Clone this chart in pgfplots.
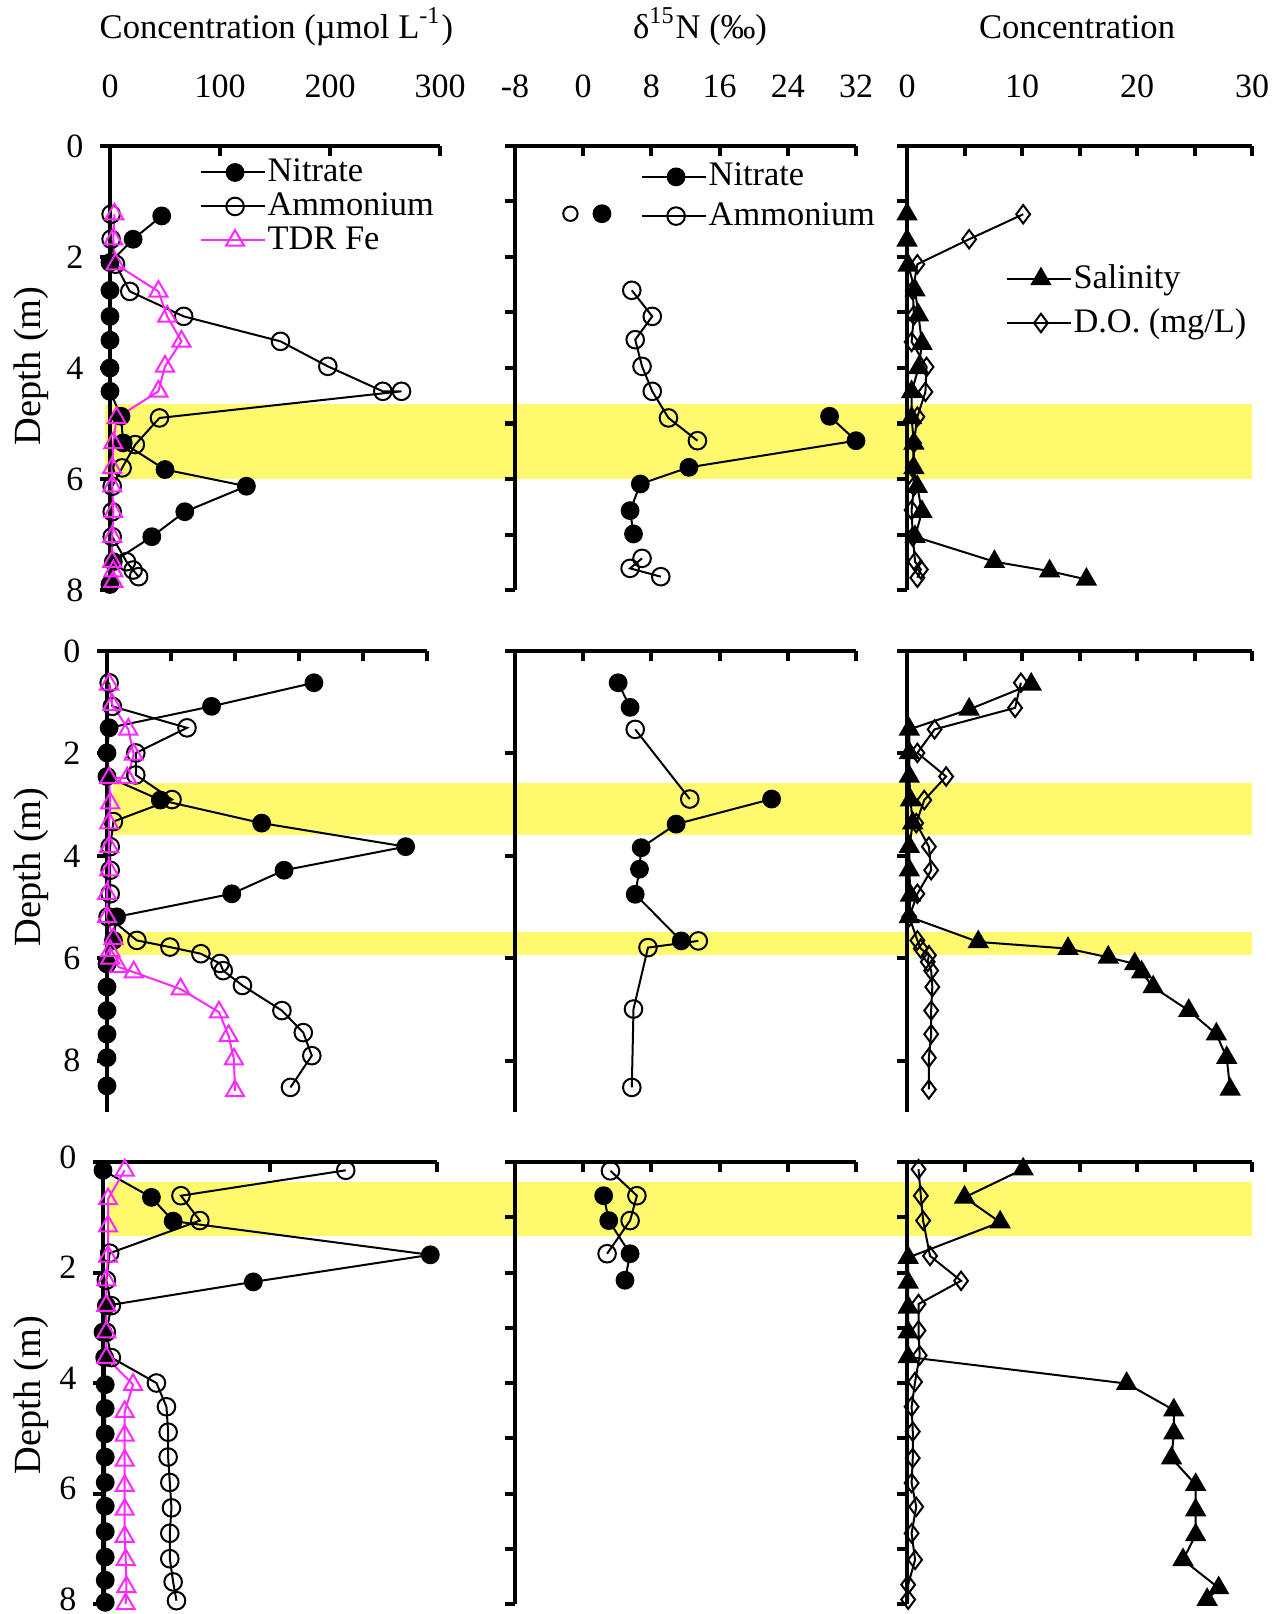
\documentclass[border=0pt]{standalone}
\usepackage{pgfplots}
\pgfplotsset{compat=1.18}
\usepackage{fontspec}
\setmainfont{Liberation Serif}
\definecolor{bandyellow}{RGB}{255,249,110}
\definecolor{fepink}{RGB}{255,40,255}
\pgfplotsset{
  panel/.style={scale only axis, anchor=north west, clip=false,
    axis x line=top, axis y line=left,
    axis line style={line width=1pt,-},
    y dir=reverse, ymin=0,
    tick align=outside, major tick length=2.5pt,
    tick style={line width=1pt,black},
    x tick style={yshift=-2.5pt},
    xticklabels={}, yticklabels={},
    tick label style={font=\fontsize{8.5}{9}\selectfont},
    xticklabel style={yshift=6pt},
    yticklabel style={xshift=-0.6pt},
    legend cell align=left,
    legend image code/.code={\draw[mark repeat=2,mark phase=2,##1] plot coordinates {(0cm,0cm) (0.3cm,0cm) (0.56cm,0cm)};},
    legend style={draw=none, fill=none, anchor=north west, font=\fontsize{8.6}{9}\selectfont,
      inner sep=0pt, row sep=0pt, nodes={inner sep=0.5pt, text height=6.5pt, text depth=2pt}},
  },
  band/.style={scale only axis, anchor=north west, hide axis, xmin=0, xmax=1, ymin=0, y dir=reverse},
  nit/.style={black, line width=0.5pt, mark=*, mark size=2.1pt},
  amm/.style={black, line width=0.5pt, mark=o, mark size=2.2pt},
  fe/.style={fepink, line width=0.5pt, mark=triangle, mark size=2.6pt},
  sal/.style={black, line width=0.5pt, mark=triangle*, mark size=2.6pt},
  dox/.style={black, line width=0.5pt, mark=diamond, mark size=2.3pt},
}
\begin{document}
\begin{tikzpicture}
\path[use as bounding box] (0,0) rectangle (321.25pt,-403.5pt);
% ---------- yellow bands ----------
\begin{axis}[band, at={(26.25pt,-36.5pt)}, width=286.75pt, height=111pt, ymax=8]
\addplot[fill=bandyellow, draw=none, mark=none] coordinates {(0,4.65) (1,4.65) (1,6.0) (0,6.0)};
\end{axis}
\begin{axis}[band, at={(28.25pt,-162.75pt)}, width=284.75pt, height=115.25pt, ymax=9]
\addplot[fill=bandyellow, draw=none, mark=none] coordinates {(0,2.58) (1,2.58) (1,3.59) (0,3.59)};
\addplot[fill=bandyellow, draw=none, mark=none] coordinates {(0,5.49) (1,5.49) (1,5.94) (0,5.94)};
\end{axis}
\begin{axis}[band, at={(27pt,-290.5pt)}, width=286pt, height=110.5pt, ymax=8]
\addplot[fill=bandyellow, draw=none, mark=none] coordinates {(0,0.37) (1,0.37) (1,1.34) (0,1.34)};
\end{axis}
% ---------- Row 1 ----------
\begin{axis}[panel, at={(27.5pt,-36.5pt)}, width=82.5pt, height=111pt,
  xmin=0, xmax=300, ymax=8, xtick={0,100,200,300}, xticklabels={0,100,200,300},
  ytick={0,2,4,6,8}, yticklabels={0,2,4,6,8},
  legend style={at={(axis description cs:0.27,0.985)}, row sep=-1pt}]
\addplot[nit] coordinates {(47,1.26) (21,1.68) (0,2.1) (0,2.6) (0,3.07) (0,3.5) (0,4.0) (0,4.42) (10,4.87) (12,5.35) (50,5.83) (124,6.13) (68,6.59) (38,7.04) (3,7.49) (0,7.9)};
\addplot[amm] coordinates {(1,1.23) (1,1.68) (5,2.13) (18,2.62) (67,3.07) (155,3.52) (198,3.97) (248,4.42) (265,4.42) (45,4.9) (23,5.38) (11,5.8) (2,6.13) (2,6.59) (2,7.04) (15,7.49) (21,7.64) (26,7.76)};
\addplot[fe] coordinates {(4,1.23) (3,1.68) (5,2.13) (44,2.62) (52,3.07) (65,3.52) (50,3.97) (44,4.42) (6,4.9) (3,5.35) (2,5.8) (2,6.13) (3,6.59) (2,7.04) (2,7.49) (3,7.66) (3,7.85)};
\legend{Nitrate,Ammonium,TDR Fe}
\end{axis}
\begin{axis}[panel, at={(128.75pt,-36.5pt)}, width=85.25pt, height=111pt,
  xmin=-8, xmax=32, ymax=8, xtick={-8,0,8,16,24,32}, xticklabels={-8,0,8,16,24,32},
  ytick={0,1,...,8},
  legend style={at={(axis description cs:0.367,0.975)}, row sep=0.3pt}]
\addplot[nit] coordinates {(28.9,4.87) (32.0,5.31) (12.4,5.79) (6.7,6.09) (5.5,6.57) (5.9,6.99)};
\addplot[amm] coordinates {(5.7,2.6) (8.1,3.07) (6.1,3.49) (6.9,3.97) (8.1,4.42) (10.0,4.9) (13.4,5.31)};
\addplot[amm, forget plot] coordinates {(6.9,7.43) (5.5,7.61) (9.1,7.76)};
\addplot[amm, only marks, mark size=1.8pt, forget plot] coordinates {(-1.5,1.22)};
\addplot[nit, only marks, forget plot] coordinates {(2.2,1.22)};
\legend{Nitrate,Ammonium}
\end{axis}
\begin{axis}[panel, at={(226.75pt,-36.5pt)}, width=86.25pt, height=111pt,
  xmin=0, xmax=30, ymax=8, xtick={0,5,...,30}, xticklabels={0,,10,,20,,30},
  ytick={0,1,...,8},
  legend style={at={(axis description cs:0.284,0.745)}, row sep=1.5pt}]
\addplot[sal] coordinates {(0,1.23) (0,1.7) (0.1,2.15) (0.7,2.6) (1.0,3.05) (1.3,3.56) (1.0,4.0) (0.4,4.43) (0.4,4.9) (0.6,5.36) (0.6,5.8) (0.9,6.14) (1.3,6.59) (0.7,7.04) (7.6,7.49) (12.4,7.66) (15.6,7.81)};
\addplot[dox] coordinates {(10.1,1.23) (5.4,1.68) (0.9,2.13) (0.5,2.6) (0.6,3.05) (0.4,3.53) (1.7,3.98) (1.6,4.43) (0.9,4.88) (0.6,5.35) (0.5,5.8) (0.6,6.13) (0.4,6.56) (0.5,7.04) (0.7,7.49) (1.2,7.63) (0.9,7.78)};
\legend{Salinity,D.O. (mg/L)}
\end{axis}
% ---------- Row 2 ----------
\begin{axis}[panel, at={(26.75pt,-162.75pt)}, width=80pt, height=115.25pt,
  xmin=0, xmax=300, ymax=9, xtick={0,60,...,300},
  ytick={0,2,4,6,8}, yticklabels={0,2,4,6,8}]
\addplot[nit] coordinates {(194,0.62) (98,1.08) (2,1.5) (0,1.99) (0,2.45) (50,2.91) (145,3.36) (280,3.82) (166,4.28) (117,4.74) (9,5.19) (6,5.65) (0,6.11) (0,6.56) (0,7.02) (0,7.48) (0,7.94) (0,8.49)};
\addplot[amm] coordinates {(2,0.62) (5,1.08) (75,1.5) (27,1.99) (27,2.42) (61,2.9) (6,3.33) (3,3.82) (3,4.28) (3,4.74) (1,5.19) (28,5.65) (59,5.78) (88,5.91) (106,6.1) (109,6.24) (127,6.53) (164,7.02) (184,7.45) (192,7.9) (172,8.52)};
\addplot[fe] coordinates {(2,0.65) (5,1.05) (20,1.53) (25,2.02) (19,2.48) (2,2.48) (3,2.97) (2,3.36) (2,3.82) (2,4.28) (0,4.74) (0,5.19) (6,5.62) (3,5.85) (3,6.0) (11,6.17) (25,6.27) (69,6.6) (105,7.05) (114,7.51) (119,7.97) (120,8.59)};
\end{axis}
\begin{axis}[panel, at={(128.75pt,-162.75pt)}, width=85.25pt, height=115.25pt,
  xmin=-8, xmax=32, ymax=9, xtick={-8,0,8,16,24,32}, ytick={0,2,4,6,8}]
\addplot[nit] coordinates {(4.1,0.62) (5.5,1.1)};
\addplot[nit] coordinates {(22.1,2.89) (10.9,3.38) (6.8,3.84) (6.6,4.26) (6.1,4.75) (11.5,5.66)};
\addplot[amm] coordinates {(6.1,1.53) (12.5,2.89)};
\addplot[amm] coordinates {(13.5,5.66) (7.6,5.79) (5.9,6.99) (5.7,8.52)};
\end{axis}
\begin{axis}[panel, at={(226.75pt,-162.75pt)}, width=86.25pt, height=115.25pt,
  xmin=0, xmax=30, ymax=9, xtick={0,5,...,30}, ytick={0,2,4,6,8}]
\addplot[sal] coordinates {(10.8,0.65) (5.4,1.14) (0.2,1.53) (0.2,1.99) (0.2,2.45) (0.3,2.91) (0.5,3.36) (0.2,3.82) (0.2,4.28) (0.3,4.77) (0.2,5.19) (6.2,5.68) (14.0,5.81) (17.5,5.98) (19.8,6.11) (20.4,6.27) (21.4,6.56) (24.5,7.02) (26.9,7.48) (27.8,7.94) (28.1,8.56)};
\addplot[dox] coordinates {(9.9,0.62) (9.4,1.11) (2.4,1.53) (0.9,1.99) (3.4,2.45) (1.5,2.91) (0.8,3.36) (1.9,3.82) (2.1,4.28) (0.9,4.74) (0.2,5.19) (0.9,5.65) (1.2,5.81) (1.9,5.94) (1.8,6.07) (2.1,6.24) (2.2,6.56) (2.1,7.02) (2.1,7.48) (1.9,7.94) (1.9,8.56)};
\end{axis}
% ---------- Row 3 ----------
\begin{axis}[panel, at={(25.75pt,-290.5pt)}, width=83.5pt, height=110.5pt,
  xmin=0, xmax=300, ymax=8, xtick={0,150,300},
  ytick={0,2,4,6,8}, yticklabels={0,2,4,6,8},
  yticklabel style={inner ysep=0pt, yshift=1.2pt}]
\addplot[nit] coordinates {(0,0.15) (43.5,0.64) (63,1.07) (294,1.68) (135,2.17) (3,2.6) (0,3.08) (1.5,3.54) (2,4.03) (2,4.46) (2,4.92) (2,5.34) (2,5.8) (2,6.23) (2,6.69) (2,7.15) (2,7.57) (2,7.97)};
\addplot[amm] coordinates {(218,0.15) (70,0.61) (87,1.06) (6,1.65) (3,2.14) (7.5,2.6) (3,3.08) (7.5,3.54) (48,4.0) (57,4.43) (58.5,4.89) (58.5,5.34) (60,5.8) (61.5,6.26) (60,6.72) (60,7.18) (63,7.6) (66,7.94)};
\addplot[fe] coordinates {(19.5,0.15) (4.5,0.67) (4.5,1.16) (4.5,1.71) (3,2.14) (3,2.6) (3,3.08) (3,3.54) (27,4.03) (19.5,4.52) (19.5,4.95) (19.5,5.4) (19.5,5.86) (19.5,6.29) (19.5,6.78) (20.4,7.2) (21,7.69) (20.4,8.0)};
\end{axis}
\begin{axis}[panel, at={(128.75pt,-290.5pt)}, width=85.25pt, height=110.5pt,
  xmin=-8, xmax=32, ymax=8, xtick={-8,0,8,16,24,32}, ytick={0,1,...,8}]
\addplot[amm] coordinates {(3.2,0.16) (6.3,0.61) (5.5,1.06) (2.8,1.66)};
\addplot[nit] coordinates {(2.4,0.61) (3.0,1.06) (5.5,1.66) (4.9,2.14)};
\end{axis}
\begin{axis}[panel, at={(226.75pt,-290.5pt)}, width=86.25pt, height=110.5pt,
  xmin=0, xmax=30, ymax=8, xtick={0,5,...,30}, ytick={0,1,...,8}]
\addplot[sal] coordinates {(10.1,0.13) (5.0,0.64) (8.1,1.09) (0.1,1.73) (0.1,2.18) (0.1,2.63) (0.1,3.08) (0.1,3.53) (19.1,4.01) (23.2,4.49) (23.2,4.91) (23.0,5.36) (25.1,5.84) (25.1,6.3) (25.1,6.75) (24.0,7.2) (27.1,7.71) (26.1,7.92)};
\addplot[dox] coordinates {(1.0,0.13) (1.2,0.61) (1.4,1.06) (2.0,1.7) (4.7,2.15) (1.0,2.57) (1.0,3.05) (1.1,3.5) (0.7,3.98) (0.4,4.43) (0.5,4.88) (0.5,5.36) (0.4,5.81) (0.8,6.24) (0.4,6.72) (0.7,7.2) (0.1,7.65) (0.1,7.92)};
\end{axis}
% ---------- headers and depth labels ----------
\begin{scope}[every node/.style={font=\fontsize{8.65}{10}\selectfont, inner sep=0pt}]
\node at (69.1pt,-6.75pt) {Concentration (µmol L\textsuperscript{-1})};
\node at (175pt,-6.75pt) {δ\textsuperscript{15}N (‰)};
\node at (269.25pt,-6.75pt) {Concentration};
\end{scope}
\begin{scope}[every node/.style={font=\fontsize{9.6}{10}\selectfont, inner sep=0pt, rotate=90}]
\node at (7.9pt,-91.5pt) {Depth (m)};
\node at (7.9pt,-216.75pt) {Depth (m)};
\node at (7.9pt,-348.75pt) {Depth (m)};
\end{scope}
\end{tikzpicture}
\end{document}
